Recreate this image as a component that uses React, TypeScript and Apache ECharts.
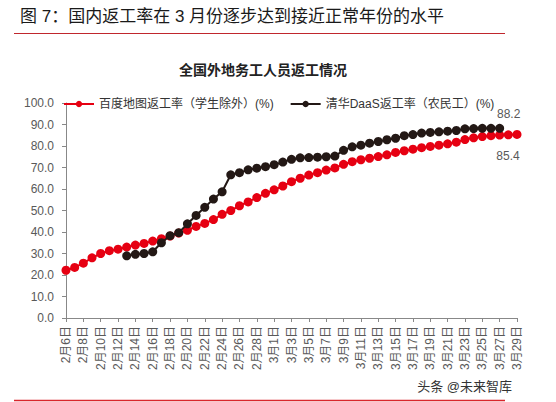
import React, { useEffect, useRef } from "react";
import * as echarts from "echarts";

const febDays = Array.from({ length: 24 }, (_, i) => `2月${i + 6}日`);
const marDays = Array.from({ length: 29 }, (_, i) => `3月${i + 1}日`);
const categories = [...febDays, ...marDays];

const baiduName = "百度地图返工率（学生除外）(%)";
const tsinghuaName = "清华DaaS返工率（农民工）(%)";

const baiduValues = [
  22.2, 23.5, 25.5, 28.0, 30.0, 31.3, 32.0, 33.0, 33.9, 34.7,
  35.8, 36.9, 38.1, 39.5, 40.8, 42.6, 44.0, 45.8, 48.2, 50.0,
  52.2, 54.0, 56.0, 58.0, 59.6, 61.4, 63.4, 65.0, 66.5, 67.6,
  68.8, 69.8, 71.5, 72.7, 73.6, 74.3, 75.1, 75.9, 77.0, 77.8,
  78.5, 79.2, 79.8, 80.4, 81.0, 81.8, 83.0, 83.8, 84.4, 84.8,
  85.1, 85.2, 85.4,
];

const tsinghuaValues: (number | null)[] = [
  null, null, null, null, null, null, null,
  28.9, 29.6, 30.0, 30.8, 35.0, 38.3, 39.7, 43.8, 47.7, 51.5,
  55.3, 58.7, 66.6, 67.6, 68.9, 69.7, 70.4, 71.3, 72.5, 73.8,
  74.5, 74.6, 74.8, 75.0, 75.3, 78.0, 79.6, 80.4, 81.3, 82.1,
  82.9, 83.6, 84.8, 85.3, 86.0, 86.3, 86.6, 86.9, 87.2, 88.0,
  88.1, 88.2, 88.2, 88.2, null, null,
];

const yTicks = [0, 10, 20, 30, 40, 50, 60, 70, 80, 90, 100];

const headerText = "图 7：国内返工率在 3 月份逐步达到接近正常年份的水平";
const chartTitle = "全国外地务工人员返工情况";
const watermark = "头条 @未来智库";

const FONT = "'Liberation Sans', 'Noto Sans CJK SC', sans-serif";
const RED = "#E60012";
const BLACK = "#231815";
const GRAY = "#595959";

function lastIndex(arr: (number | null)[]) {
  for (let i = arr.length - 1; i >= 0; i--) if (arr[i] != null) return i;
  return -1;
}

export default function App() {
  const ref = useRef<HTMLDivElement>(null);
  useEffect(() => {
    document.body.style.margin = "0";
    const chart = echarts.init(ref.current!, null, { renderer: "svg" });
    const lastB = lastIndex(baiduValues);
    const lastT = lastIndex(tsinghuaValues);
    const baiduData = baiduValues.map((v, i) =>
      i === lastB
        ? {
            value: v,
            label: {
              show: true,
              position: "bottom",
              offset: [-9, 6],
              color: GRAY,
              fontSize: 12,
              fontFamily: FONT,
              formatter: (p: any) => Number(p.value).toFixed(1),
            },
          }
        : v
    );
    const tsinghuaData = tsinghuaValues.map((v, i) =>
      i === lastT
        ? {
            value: v,
            label: {
              show: true,
              position: "top",
              offset: [9, 1],
              color: GRAY,
              fontSize: 12,
              fontFamily: FONT,
              formatter: (p: any) => Number(p.value).toFixed(1),
            },
          }
        : v
    );
    chart.setOption({
      animation: false,
      backgroundColor: "#fff",
      textStyle: { fontFamily: FONT },
      graphic: [
        {
          type: "text",
          left: 20,
          top: 8,
          style: { text: headerText, fontSize: 17, fill: "#1a1a1a", fontFamily: FONT },
        },
        {
          type: "line",
          shape: { x1: 14, y1: 33.5, x2: 505, y2: 33.5 },
          style: { stroke: "#C0272D", lineWidth: 1 },
        },
        {
          type: "text",
          x: 263,
          y: 70,
          style: {
            text: chartTitle,
            fontSize: 14,
            fontWeight: "bold",
            fill: "#222",
            align: "center",
            verticalAlign: "middle",
            fontFamily: FONT,
          },
        },
        {
          type: "text",
          x: 512,
          y: 386,
          style: {
            text: watermark,
            fontSize: 13,
            fill: "#333",
            align: "right",
            verticalAlign: "middle",
            fontFamily: FONT,
          },
        },
        {
          type: "line",
          shape: { x1: 14, y1: 400.5, x2: 505, y2: 400.5 },
          style: { stroke: "#D9262C", lineWidth: 1.5 },
        },
      ],
      legend: {
        data: [baiduName, tsinghuaName],
        left: 58,
        top: 93,
        itemWidth: 30,
        itemHeight: 8,
        itemGap: 16,
        textStyle: { fontSize: 12, color: "#333", fontFamily: FONT },
      },
      grid: { left: 66, right: 39, top: 103, bottom: 84, containLabel: false },
      xAxis: {
        type: "category",
        data: categories,
        boundaryGap: false,
        axisLine: { lineStyle: { color: "#888", width: 1 } },
        axisTick: { interval: 1, length: 4, lineStyle: { color: "#888" } },
        axisLabel: {
          interval: 1,
          rotate: 90,
          fontSize: 12,
          color: GRAY,
          margin: 8,
          fontFamily: FONT,
        },
      },
      yAxis: {
        type: "value",
        min: yTicks[0],
        max: yTicks[yTicks.length - 1],
        interval: 10,
        axisLine: { show: true, lineStyle: { color: "#888", width: 1 } },
        axisTick: { show: true, length: 4, lineStyle: { color: "#888" } },
        splitLine: { show: false },
        axisLabel: {
          fontSize: 12,
          color: GRAY,
          margin: 12,
          fontFamily: FONT,
          formatter: (v: number) => v.toFixed(1),
        },
      },
      series: [
        {
          name: baiduName,
          type: "line",
          data: baiduData,
          symbol: "circle",
          symbolSize: 9,
          showAllSymbol: true,
          itemStyle: { color: RED },
          lineStyle: { color: RED, width: 2 },
          z: 2,
        },
        {
          name: tsinghuaName,
          type: "line",
          data: tsinghuaData,
          symbol: "circle",
          symbolSize: 9,
          showAllSymbol: true,
          itemStyle: { color: BLACK },
          lineStyle: { color: BLACK, width: 2 },
          z: 3,
        },
      ],
    });
    return () => chart.dispose();
  }, []);
  return <div ref={ref} style={{ width: 556, height: 402 }} />;
}
